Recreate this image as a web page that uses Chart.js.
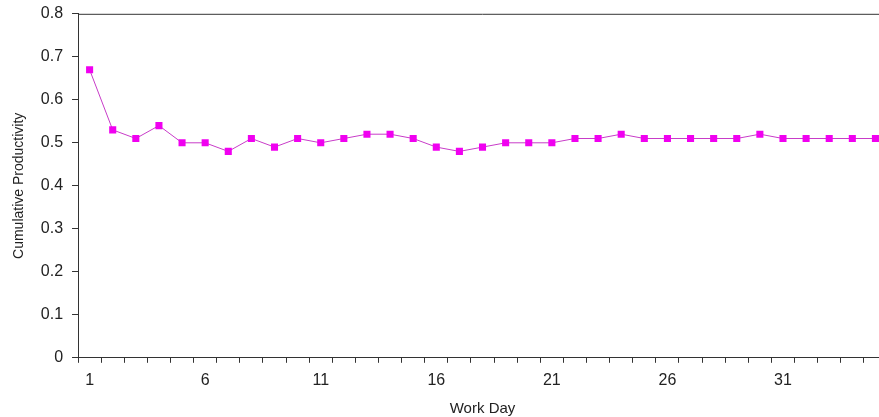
<!DOCTYPE html>
<html>
<head>
<meta charset="utf-8">
<script src="https://cdn.jsdelivr.net/npm/chart.js@4/dist/chart.umd.min.js"></script>
<style>
  html, body { margin: 0; padding: 0; background: #fff; overflow: hidden; }
  #wrap { position: relative; width: 892px; height: 417px; }
</style>
</head>
<body>
<div id="wrap"><canvas id="chart"></canvas></div>
<script>
  // Work days 1..35
  const workDays = Array.from({ length: 35 }, (_, i) => String(i + 1));

  // Cumulative productivity
  const productivity = [
    0.67, 0.53, 0.51, 0.54, 0.50, 0.50, 0.48, 0.51, 0.49, 0.51,
    0.50, 0.51, 0.52, 0.52, 0.51, 0.49, 0.48, 0.49, 0.50, 0.50,
    0.50, 0.51, 0.51, 0.52, 0.51, 0.51, 0.51, 0.51, 0.51, 0.52,
    0.51, 0.51, 0.51, 0.51, 0.51
  ];

  const yTicks = [0, 0.1, 0.2, 0.3, 0.4, 0.5, 0.6, 0.7, 0.8];

  const FONT = "'Liberation Sans', Arial, sans-serif";
  const AXIS = "#333";

  // top + right frame of the plot area
  const frame = {
    id: "frame",
    afterDraw(chart) {
      const { ctx, chartArea: a } = chart;
      ctx.save();
      ctx.strokeStyle = AXIS;
      ctx.lineWidth = 1;
      ctx.beginPath();
      ctx.moveTo(a.left, a.top + 0.5);
      ctx.lineTo(a.right, a.top + 0.5);
      ctx.lineTo(a.right, a.bottom);
      ctx.stroke();
      ctx.restore();
    }
  };

  new Chart(document.getElementById("chart"), {
    type: "line",
    data: {
      labels: workDays,
      datasets: [{
        label: "Cumulative Productivity",
        data: productivity,
        borderColor: "#C83CC8",
        borderWidth: 1,
        backgroundColor: "#F000F0",
        pointBackgroundColor: "#F000F0",
        pointBorderWidth: 0,
        pointStyle: "rect",
        pointRadius: 5,
        tension: 0
      }]
    },
    options: {
      responsive: true,
      maintainAspectRatio: false,
      animation: false,
      layout: { padding: { top: 5, right: 4, left: 11, bottom: 0 } },
      plugins: { legend: { display: false }, tooltip: { enabled: false } },
      scales: {
        x: {
          offset: true,
          grid: {
            offset: true,
            drawOnChartArea: false,
            drawTicks: true,
            tickLength: 5,
            color: AXIS
          },
          border: { color: AXIS, width: 1 },
          ticks: {
            autoSkip: false,
            maxRotation: 0,
            padding: 8,
            color: "#222",
            font: { family: FONT, size: 16 },
            callback: (v, i) => (i % 5 === 0 ? workDays[i] : "")
          },
          title: {
            display: true,
            text: "Work Day",
            color: "#222",
            font: { family: FONT, size: 15, lineHeight: 1 },
            padding: { top: 3, bottom: 1 }
          }
        },
        y: {
          min: yTicks[0],
          max: yTicks[yTicks.length - 1],
          afterBuildTicks: (s) => { s.ticks = yTicks.map((v) => ({ value: v })); },
          grid: {
            drawOnChartArea: false,
            drawTicks: true,
            tickLength: 6,
            color: AXIS
          },
          border: { color: AXIS, width: 1 },
          ticks: {
            padding: 9,
            color: "#222",
            font: { family: FONT, size: 16, lineHeight: 0.6 },
            callback: (v) => String(Number(v.toFixed(1)))
          },
          title: {
            display: true,
            text: "Cumulative Productivity",
            color: "#222",
            font: { family: FONT, size: 14 },
            padding: { top: 0, bottom: 4 }
          }
        }
      }
    },
    plugins: [frame]
  });
</script>
</body>
</html>
